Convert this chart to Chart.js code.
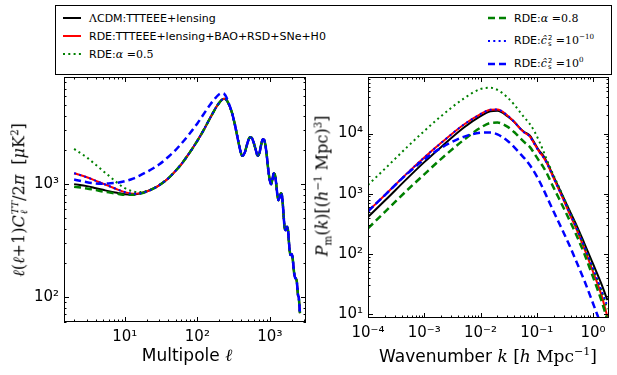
<!DOCTYPE html>
<html>
<head>
<meta charset="utf-8">
<script src="https://cdn.jsdelivr.net/npm/chart.js@4.4.1/dist/chart.umd.min.js"></script>
<style>
  body { margin: 0; background: #fff; }
  #fig { position: relative; width: 617px; height: 375px; overflow: hidden; font-family: "DejaVu Sans", sans-serif; color: #000; }
  #fig canvas { position: absolute; top: 0; }
  .m { font-family: "DejaVu Serif", serif; font-style: italic; }
  .r { font-family: "DejaVu Serif", serif; }
  .ss { display: inline-flex; flex-direction: column; vertical-align: middle; font-size: 0.62em; line-height: 0.9; margin-left: 1px; }
  sup, sub { font-size: 0.65em; line-height: 0; }
  #legend { position: absolute; left: 55px; top: 5px; width: 555px; height: 68px; border: 1px solid #000; background: #fff; font-size: 11px; }
  .item { position: absolute; white-space: nowrap; display: flex; align-items: center; height: 16px; }
  .item svg { margin-right: 8px; }
  .title { position: absolute; white-space: nowrap; transform: translate(-50%, -50%); }
  .vtitle { position: absolute; white-space: nowrap; transform: translate(-50%, -50%) rotate(-90deg); }
</style>
</head>
<body>
<div id="fig">
  <canvas id="cmb" width="312" height="375" style="left:0"></canvas>
  <canvas id="pk" width="305" height="375" style="left:312px"></canvas>
  <div id="legend"></div>
  <div class="vtitle r" style="left:19px;top:200px;font-size:16px"><i>ℓ</i>(<i>ℓ</i>+1)<i>C</i><span class="ss"><i>TT</i><i>ℓ</i></span>/2<i>π</i>&nbsp; [<i>μ</i>K<sup>2</sup>]</div>
  <div class="title" style="left:187px;top:355px;font-size:17px">Multipole <span class="m">ℓ</span></div>
  <div class="vtitle r" style="left:322px;top:186px;font-size:16px"><i>P</i><sub>m</sub>(<i>k</i>)[(<i>h</i><sup>−1</sup> Mpc)<sup>3</sup>]</div>
  <div class="title" style="left:488px;top:356px;font-size:17px">Wavenumber <span class="m">k</span> <span class="r">[<i>h</i> Mpc<sup>−1</sup>]</span></div>
</div>
<script>
// CMB TT spectrum, D_l in muK^2
const ells = [2, 3, 4, 5, 6, 8, 10, 13, 16, 20, 25, 30, 40, 50, 60, 80, 100, 120, 150, 180, 200, 220, 235, 250, 270,
  300, 330, 360, 390, 415, 450, 490, 530, 560, 600, 640, 680, 720, 760, 800, 830, 870, 910, 950, 1000,
  1040, 1080, 1130, 1170, 1220, 1270, 1310, 1360, 1420, 1460, 1510, 1560, 1600, 1660, 1720, 1780, 1830, 1880, 1930, 1990,
  2050, 2110, 2170, 2230, 2290, 2350, 2400, 2450, 2500, 2550, 2600]

// low-l part (l = 2 .. 270) differs between models
const clLcdmHead = [1000, 960, 920, 890, 865, 835, 815, 810, 825, 860, 915, 980, 1130, 1310, 1500, 1940, 2420, 2950, 3850, 4750, 5250, 5620, 5720, 5600, 5150]
const clRdeHead = [1250, 1150, 1070, 1010, 965, 895, 850, 822, 828, 860, 915, 980, 1130, 1310, 1500, 1940, 2420, 2950, 3850, 4750, 5250, 5620, 5720, 5600, 5150]
const clAlpha05Head = [2050, 1720, 1480, 1310, 1190, 1020, 920, 862, 850, 870, 920, 982, 1130, 1310, 1500, 1940, 2420, 2950, 3850, 4750, 5250, 5620, 5720, 5600, 5150]
const clAlpha08Head = [950, 915, 885, 860, 845, 820, 805, 805, 822, 860, 915, 980, 1130, 1310, 1500, 1940, 2420, 2950, 3850, 4750, 5250, 5620, 5720, 5600, 5150]
const clCs2m10Head = [1250, 1150, 1070, 1010, 965, 895, 850, 822, 828, 860, 915, 980, 1130, 1310, 1500, 1940, 2420, 2950, 3850, 4750, 5250, 5620, 5720, 5600, 5150]
const clCs2p0Head = [1100, 1040, 1015, 1010, 1015, 1030, 1060, 1120, 1190, 1280, 1390, 1500, 1750, 2000, 2280, 2850, 3450, 4100, 5050, 5850, 6250, 6380, 6300, 5950, 5250]
// high-l part (l >= 300), all models on top of each other
const clTail = [4300, 3350, 2550, 2000, 1780, 1900, 2300, 2600, 2580, 2320, 2000, 1780, 1900, 2250, 2500, 2480, 2200, 1750, 1350, 1070,
  1000, 1090, 1240, 1220, 1020, 800, 720, 760, 830, 810, 660, 490, 410, 390, 420, 390, 310, 255, 235, 240,
  228, 190, 160, 148, 145, 138, 118, 103, 100, 85, 72]

// matter power spectrum, (Mpc/h)^3
const ks = [1e-4, 2e-4, 5e-4, 1e-3, 2e-3, 5e-3, 0.01, 0.015, 0.02, 0.03, 0.04, 0.05, 0.06, 0.075, 0.09, 0.11, 0.13, 0.15, 0.2, 0.3, 0.4, 0.5, 0.7, 1.0, 1.4, 1.8]
const pkLcdm = [410, 770, 1800, 3350, 6000, 12500, 19500, 23500, 24000, 19500, 15500, 12300, 10600, 9300, 7100, 5200, 4300, 3400, 1900, 850, 480, 310, 150, 68, 32, 17]
const pkRde = [510, 950, 2200, 4000, 7000, 14000, 21000, 24800, 25000, 20000, 15500, 12200, 10400, 9000, 6800, 5000, 4100, 3250, 1800, 780, 420, 265, 122, 50, 21, 9]
const pkAlpha05 = [1400, 2600, 6000, 11000, 19500, 38000, 55000, 57500, 53000, 40000, 30000, 23000, 18500, 14500, 11000, 7500, 5200, 3700, 2000, 870, 470, 290, 135, 57, 25, 12]
const pkAlpha08 = [265, 500, 1150, 2100, 3800, 7800, 12500, 15000, 15200, 13000, 10500, 8500, 7200, 6000, 4700, 3500, 2800, 2200, 1250, 580, 330, 210, 100, 41, 17, 8]
const pkCs2m10 = [510, 950, 2200, 4000, 7000, 14000, 21000, 24800, 25000, 20000, 15500, 12200, 10400, 9000, 6800, 5000, 4100, 3250, 1800, 800, 440, 280, 132, 57, 25, 13.5]
const pkCs2p0 = [510, 950, 2150, 3700, 5800, 8800, 10300, 10400, 9700, 7600, 5900, 4700, 3900, 3000, 2300, 1650, 1200, 900, 500, 225, 125, 76, 36, 15, 6.5, 3.5]

const series = [
  { key: 'lcdm', label: '<span class="r">Λ</span>CDM:TTTEEE+lensing', color: '#000000', width: 2, dash: [], cl: clLcdmHead, pk: pkLcdm },
  { key: 'rde', label: 'RDE:TTTEEE+lensing+BAO+RSD+SNe+H0', color: '#ff0000', width: 2, dash: [], cl: clRdeHead, pk: pkRde },
  { key: 'a05', label: 'RDE:<span class="m">α</span><span class="r"> =0.5</span>', color: '#008000', width: 2, dash: [2, 3.3], cl: clAlpha05Head, pk: pkAlpha05 },
  { key: 'a08', label: 'RDE:<span class="m">α</span><span class="r"> =0.8</span>', color: '#008000', width: 2.5, dash: [7, 4], cl: clAlpha08Head, pk: pkAlpha08 },
  { key: 'cs10', label: 'RDE:<span class="m">ĉ</span><span class="ss"><span>2</span><span>s</span></span><span class="r"> =10<sup>−10</sup></span>', color: '#0000ff', width: 2, dash: [2, 3.3], cl: clCs2m10Head, pk: pkCs2m10 },
  { key: 'cs0', label: 'RDE:<span class="m">ĉ</span><span class="ss"><span>2</span><span>s</span></span><span class="r"> =10<sup>0</sup></span>', color: '#0000ff', width: 2.5, dash: [7, 4], cl: clCs2p0Head, pk: pkCs2p0 }
]

// legend slots: [left, centre y] inside the box
const legendSlots = [[7, 12], [7, 30], [7, 48], [432, 12], [432, 35], [432, 58]]

const legend = document.getElementById('legend')
series.forEach((s, i) => {
  const div = document.createElement('div')
  div.className = 'item'
  div.style.left = legendSlots[i][0] + 'px'
  div.style.top = (legendSlots[i][1] - 8) + 'px'
  div.innerHTML = `<svg width="18" height="8"><line x1="0" y1="4" x2="18" y2="4" stroke="${s.color}" stroke-width="${s.width}" stroke-dasharray="${s.dash.join(' ')}"/></svg><span>${s.label}</span>`
  legend.appendChild(div)
})

const supDigits = '⁰¹²³⁴⁵⁶⁷⁸⁹'
function sup(n) {
  return String(n).split('').map(c => c === '-' ? '⁻' : supDigits[+c]).join('')
}

function decades(min, max) {
  const out = []
  for (let e = Math.ceil(Math.log10(min) - 1e-9); Math.pow(10, e) <= max * (1 + 1e-9); e++) out.push(Math.pow(10, e))
  return out
}

function logMarks(min, max) {
  const out = []
  for (let e = Math.floor(Math.log10(min)); e <= Math.ceil(Math.log10(max)); e++) {
    for (let m = 1; m < 10; m++) {
      const v = m * Math.pow(10, e)
      if (v >= min && v <= max) out.push({ v, major: m === 1 })
    }
  }
  return out
}

// frame plus inward ticks on all four sides, like matplotlib classic
const frameTicks = {
  id: 'frameTicks',
  afterDatasetsDraw(chart) {
    const { ctx, chartArea: a } = chart
    const x = chart.scales.x
    const y = chart.scales.y
    ctx.save()
    ctx.strokeStyle = '#000'
    ctx.lineWidth = 1
    ctx.beginPath()
    logMarks(x.min, x.max).forEach(t => {
      const px = Math.round(x.getPixelForValue(t.v)) + 0.5
      const len = t.major ? 5 : 2.5
      ctx.moveTo(px, a.bottom); ctx.lineTo(px, a.bottom - len)
      ctx.moveTo(px, a.top); ctx.lineTo(px, a.top + len)
    })
    logMarks(y.min, y.max).forEach(t => {
      const py = Math.round(y.getPixelForValue(t.v)) + 0.5
      const len = t.major ? 5 : 2.5
      ctx.moveTo(a.left, py); ctx.lineTo(a.left + len, py)
      ctx.moveTo(a.right, py); ctx.lineTo(a.right - len, py)
    })
    ctx.stroke()
    ctx.strokeRect(a.left + 0.5, a.top + 0.5, a.right - a.left - 1, a.bottom - a.top - 1)
    ctx.restore()
  }
}

function logAxis(min, max, side) {
  return {
    type: 'logarithmic',
    min, max,
    grid: { display: false, drawTicks: false },
    border: { display: false },
    afterBuildTicks: scale => { scale.ticks = decades(min, max).map(v => ({ value: v })) },
    afterFit: scale => {
      if (side.width) scale.width = side.width
      if (side.height) scale.height = side.height
    },
    ticks: {
      autoSkip: false,
      maxRotation: 0,
      padding: side.padding,
      color: '#000',
      font: { family: 'DejaVu Sans', size: 15 },
      callback: v => '10' + sup(Math.round(Math.log10(v)))
    }
  }
}

function makePanel(id, xs, pick, xr, yr, layout) {
  return new Chart(document.getElementById(id), {
    type: 'line',
    data: {
      datasets: series.map((s, i) => ({
        label: s.key,
        data: pick(s).map((v, j) => ({ x: xs[j], y: v })),
        borderColor: s.color,
        borderWidth: s.width,
        borderDash: s.dash,
        borderCapStyle: 'butt',
        pointRadius: 0,
        cubicInterpolationMode: 'monotone',
        fill: false,
        clip: 0,
        order: series.length - i
      }))
    },
    options: {
      responsive: false,
      animation: false,
      devicePixelRatio: 1,
      events: [],
      layout: { autoPadding: false, padding: layout.padding },
      plugins: { legend: { display: false }, tooltip: { enabled: false } },
      scales: {
        x: logAxis(xr[0], xr[1], { height: layout.xHeight, padding: 6 }),
        y: logAxis(yr[0], yr[1], { width: layout.yWidth, padding: 5 })
      }
    },
    plugins: [frameTicks]
  })
}

// left: chart area x 64..306, y 77..322
makePanel('cmb', ells, s => s.cl.concat(clTail), [1.45, 3150], [60, 8900],
  { padding: { left: 0, right: 6, top: 77, bottom: 0 }, yWidth: 64, xHeight: 53 })

// right: chart area x 368..609, y 77..318
makePanel('pk', ks, s => s.pk, [1e-4, 1.92], [8.6, 87000],
  { padding: { left: 0, right: 8, top: 77, bottom: 0 }, yWidth: 56, xHeight: 57 })
</script>
</body>
</html>
